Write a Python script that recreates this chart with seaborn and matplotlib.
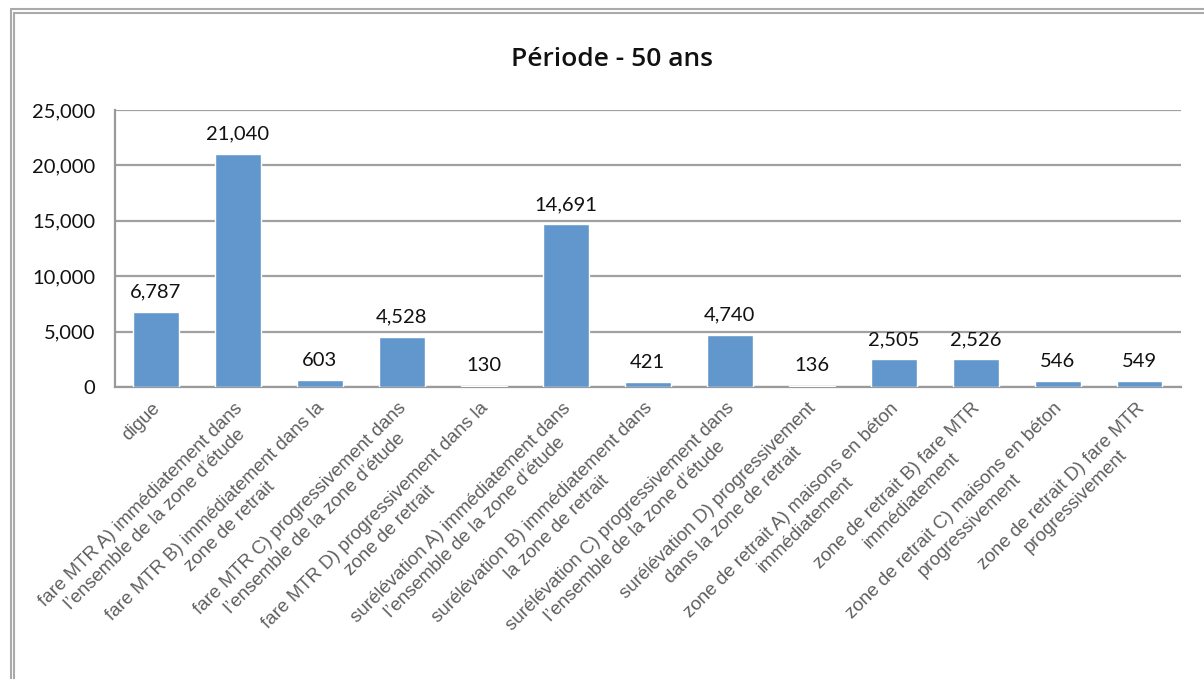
import seaborn as sns
import matplotlib.pyplot as plt
import matplotlib.transforms as mtransforms
import pandas as pd
from matplotlib.lines import Line2D
from matplotlib.ticker import FuncFormatter

# DATA ------------------------------------------------------------------------------------------------------

categories = [
    "digue",
    "fare MTR A) immédiatement dans\nl’ensemble de la zone d’étude",
    "fare MTR B) immédiatement dans la\nzone de retrait",
    "fare MTR C) progressivement dans\nl’ensemble de la zone d’étude",
    "fare MTR D) progressivement dans la\nzone de retrait",
    "surélévation A) immédiatement dans\nl’ensemble de la zone d’étude",
    "surélévation B) immédiatement dans\nla zone de retrait",
    "surélévation C) progressivement dans\nl’ensemble de la zone d’étude",
    "surélévation D) progressivement\ndans la zone de retrait",
    "zone de retrait A) maisons en béton\nimmédiatement",
    "zone de retrait B) fare MTR\nimmédiatement",
    "zone de retrait C) maisons en béton\nprogressivement",
    "zone de retrait D) fare MTR\nprogressivement",
]
values = [6787, 21040, 603, 4528, 130, 14691, 421, 4740, 136, 2505, 2526, 546, 549]
y_ticks = [0, 5000, 10000, 15000, 20000, 25000]
title = "Période - 50 ans"

df = pd.DataFrame({"cat": categories, "val": values})

# PLOT ------------------------------------------------------------------------------------------------------

sns.set_style("white")
plt.rcParams['font.family'] = ['Lato', 'DejaVu Sans']

fig = plt.figure(figsize=(12.04, 6.79), dpi=100)
ax = fig.add_axes([0.0955, 0.430, 0.885, 0.408])

sns.barplot(data=df, x="cat", y="val", color="#6197CC", saturation=1, width=0.56, ax=ax, zorder=3)

# value labels on top of bars
ax.bar_label(ax.containers[0], labels=[f"{v:,}" for v in values], padding=8, fontsize=14.5, color="#111111")

ax.set_ylim(0, 25000)
ax.set_yticks(y_ticks)
ax.yaxis.set_major_formatter(FuncFormatter(lambda v, p: f"{int(v):,}"))
ax.tick_params(axis="y", labelsize=14.5, length=4, color="#9a9a9a", labelcolor="#111111", pad=10)
ax.grid(axis="y", color="#a0a0a0", linewidth=1.6, zorder=0)
ax.set_xlim(-0.5, len(categories) - 0.5)

# rotated multi-line x labels
ax.set_xticks(range(len(categories)))
ax.set_xticklabels(categories, rotation=45, ha="right", rotation_mode="anchor",
                   fontsize=13.5, color="#5f5f5f", family=["Liberation Sans", "DejaVu Sans"],
                   multialignment="center", linespacing=1.3)
ax.tick_params(axis="x", length=0, pad=9)
shift = mtransforms.ScaledTranslation(-4 / 100, 0, fig.dpi_scale_trans)
for lbl in ax.get_xticklabels():
    lbl.set_transform(lbl.get_transform() + shift)

ax.set_xlabel("")
ax.set_ylabel("")
for side in ["top", "right"]:
    ax.spines[side].set_visible(False)
for side in ["left", "bottom"]:
    ax.spines[side].set_color("#9a9a9a")
    ax.spines[side].set_linewidth(1.6)

fig.text(0.508, 0.912, title, ha="center", va="center", fontsize=19, fontweight="semibold",
         color="#111111", family=["Open Sans", "DejaVu Sans"])

# double frame around the chart
W, H = 1204, 679
for off in [10.5, 14]:
    fig.add_artist(Line2D([off / W, off / W], [0, 1 - (off - 1.5) / H], color="#aaaaaa", linewidth=1.5))
    fig.add_artist(Line2D([off / W, 1], [1 - (off - 1.5) / H, 1 - (off - 1.5) / H], color="#aaaaaa", linewidth=1.5))

fig.savefig("out.png", dpi=100)
